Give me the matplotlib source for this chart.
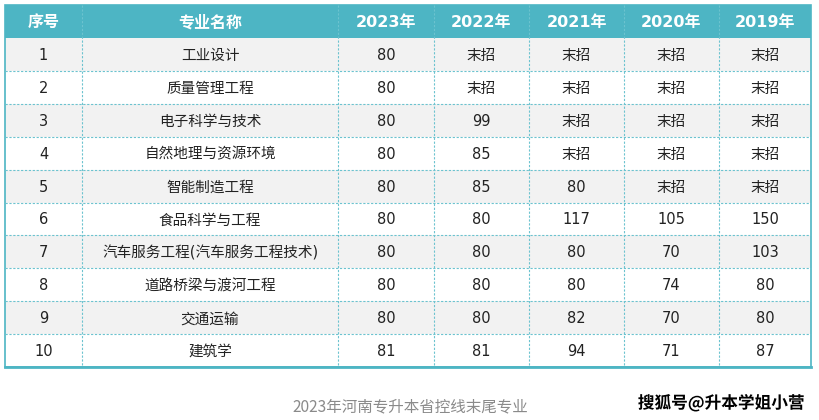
import matplotlib
matplotlib.use("Agg")
import matplotlib.pyplot as plt
from matplotlib.patches import Rectangle
import matplotlib.patheffects as pe

plt.rcParams['font.family'] = ['Noto Sans CJK SC', 'DejaVu Sans']
MIXED = ['DejaVu Sans', 'Noto Sans CJK SC']

headers = ["序号", "专业名称", "2023年", "2022年", "2021年", "2020年", "2019年"]
seq = ["1", "2", "3", "4", "5", "6", "7", "8", "9", "10"]
majors = ["工业设计", "质量管理工程", "电子科学与技术", "自然地理与资源环境", "智能制造工程",
          "食品科学与工程", "汽车服务工程(汽车服务工程技术)", "道路桥梁与渡河工程", "交通运输", "建筑学"]
y2023 = ["80", "80", "80", "80", "80", "80", "80", "80", "80", "81"]
y2022 = ["末招", "末招", "99", "85", "85", "80", "80", "80", "80", "81"]
y2021 = ["末招", "末招", "末招", "末招", "80", "117", "80", "80", "82", "94"]
y2020 = ["末招", "末招", "末招", "末招", "末招", "105", "70", "74", "70", "71"]
y2019 = ["末招", "末招", "末招", "末招", "末招", "150", "103", "80", "80", "87"]
caption = "2023年河南专升本省控线末尾专业"
watermark = "搜狐号@升本学姐小营"

columns = [seq, majors, y2023, y2022, y2021, y2020, y2019]

W, H = 819, 420
fig = plt.figure(figsize=(W / 100, H / 100), dpi=100)
ax = fig.add_axes([0, 0, 1, 1])
ax.set_xlim(0, W)
ax.set_ylim(H, 0)
ax.axis("off")

teal = "#4db5c4"
line_c = "#6cc3cf"
xs = [5, 82, 338, 434, 529, 624, 719, 811]
top, hdr_bot, row_h = 5, 38, 32.9
nrows = len(seq)
bottom = hdr_bot + row_h * nrows

# header
ax.add_patch(Rectangle((xs[0], top), xs[-1] - xs[0], hdr_bot - top, facecolor=teal, edgecolor="none"))
for j, h in enumerate(headers):
    ax.text((xs[j] + xs[j + 1]) / 2, (top + hdr_bot) / 2 + 1, h, ha="center", va="center",
            color="white", fontsize=11.5, fontweight="bold", family=MIXED)

# rows
for i in range(nrows):
    y0 = hdr_bot + i * row_h
    fc = "#f2f2f2" if i % 2 == 0 else "white"
    ax.add_patch(Rectangle((xs[0], y0), xs[-1] - xs[0], row_h, facecolor=fc, edgecolor="none"))
    for j, col in enumerate(columns):
        ax.text((xs[j] + xs[j + 1]) / 2, y0 + row_h / 2 + 1, col[i], ha="center", va="center",
                color="#222222", fontsize=10.5, family=MIXED)

# dashed grid lines
for i in range(1, nrows):
    y = hdr_bot + i * row_h
    ax.plot([xs[0], xs[-1]], [y, y], color=line_c, lw=0.8, ls=(0, (2, 1.5)))
for x in xs[1:-1]:
    ax.plot([x, x], [top, bottom], color=line_c, lw=0.8, ls=(0, (2, 1.5)))

# outer border
ax.add_patch(Rectangle((xs[0], top), xs[-1] - xs[0], bottom - top, facecolor="none", edgecolor=teal, lw=1.2))
ax.plot([xs[0], xs[-1]], [bottom, bottom], color=teal, lw=2)

ax.text(410, 407, caption, ha="center", va="center", color="#8a8a8a", fontsize=11.2)
ax.text(721, 403, watermark, ha="center", va="center", color="black", fontsize=12, fontweight="bold",
        path_effects=[pe.withStroke(linewidth=2.5, foreground="white")])

fig.savefig("out.png", dpi=100)
